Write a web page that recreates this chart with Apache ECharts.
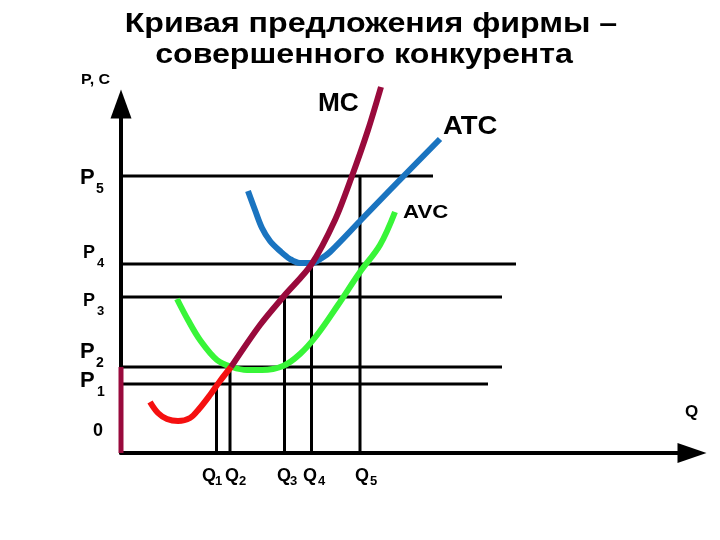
<!DOCTYPE html>
<html>
<head>
<meta charset="utf-8">
<script src="https://cdn.jsdelivr.net/npm/echarts@6/dist/echarts.min.js"></script>
<style>html,body{margin:0;padding:0;background:#fff}#c{width:720px;height:540px}</style>
</head>
<body>
<div id="c"></div>
<script>
// ---- data (Q units along x, P/C units along y) ----
const priceLevels = [13.8, 17.2, 31.2, 37.8, 55.4];      // P1..P5
const priceLineEnds = [73.4, 76.2, 76.2, 79.0, 62.4];    // extent of each price line along Q
const qtyLevels = [19.1, 21.8, 32.7, 38.1, 47.8];        // Q1..Q5 (each rises to matching P)
const mcLower = [[5.8,10.2],[7.4,8.0],[9.2,6.8],[11.4,6.4],[13.8,7.0],[15.6,8.8],[17.8,11.6],[19.8,14.4],[22.0,17.2]];
const mcUpper = [[22.0,17.2],[27.8,25.6],[32.6,31.4],[38.0,37.6],[42.8,46.6],[46.2,55.4],[49.4,64.6],[52.0,73.2]];
const atc = [[25.4,52.4],[26.8,48.6],[28.2,45.0],[29.8,42.4],[31.8,40.4],[33.8,38.8],[35.8,38.0],[38.2,38.0],[40.2,39.0],[41.8,40.2],[47.8,46.4],[53.8,52.6],[63.8,62.8]];
const avc = [[11.2,30.8],[13.4,26.6],[15.8,22.6],[19.2,18.6],[22.2,17.2],[25.2,16.6],[28.2,16.6],[32.4,17.4],[35.8,19.8],[39.2,23.6],[43.4,29.6],[47.8,36.2],[51.8,41.6],[54.8,48.2]];
const shutdownSegment = [[0, 0], [0, 17.2]];
const titleLines = ['Кривая предложения фирмы –', 'совершенного конкурента'];
const priceNames = ['1', '2', '3', '4', '5'];
const qtyNames = ['1', '2', '3', '4', '5'];

const FONT = '"Liberation Sans", Arial, sans-serif';
const MAROON = '#990a3c', RED = '#f51010', BLUE = '#1a74c0', GREEN = '#38f538';

const series = [];
function seg(data, color, width, smooth, z) {
  series.push({ type: 'line', data, showSymbol: false, symbol: 'none', smooth: smooth || false,
    clip: false, silent: true, z: z || 2, lineStyle: { color, width } });
}
priceLevels.forEach((p, i) => seg([[0, p], [priceLineEnds[i], p]], '#000', 3, false, 1));
qtyLevels.forEach((q, i) => seg([[q, 0], [q, priceLevels[i]]], '#000', 3, false, 1));
seg(avc, GREEN, 6, 0.35, 3);
seg(atc, BLUE, 6, 0.35, 3);
seg(mcLower, RED, 6, 0.35, 4);
seg(mcUpper, MAROON, 6, 0.3, 4);
seg(shutdownSegment, MAROON, 5, false, 5);

function txt(text, x, y, size, align, sx) {
  return { type: 'text', x, y, z: 10, silent: true, scaleX: sx || 1, scaleY: 1, style: {
    text, font: 'bold ' + size + 'px ' + FONT, fill: '#000',
    align: align || 'left', textAlign: align || 'left',
    verticalAlign: 'middle', textVerticalAlign: 'middle' } };
}
const pLabelPos = [ // [Px, Py, size, subX, subY, subSize]
  [80, 380.5, 22, 97, 392, 14],
  [80, 352, 22, 96, 363, 14],
  [83, 301.5, 18, 97, 311, 13],
  [83, 253.5, 18, 97, 263, 13],
  [80, 178, 22, 96, 189.5, 14]
];
const qLabelPos = [[202, 215], [225, 239], [277, 290], [303, 318], [355, 370]];
const graphics = [
  txt(titleLines[0], 371, 24.5, 27, 'center', 1.19),
  txt(titleLines[1], 364, 55.6, 27, 'center', 1.19),
  txt('P, C', 81, 80, 15, 'left', 1.07),
  txt('Q', 685, 412.5, 17),
  txt('0', 93, 431.5, 18),
  txt('MC', 318, 104, 25, 'left', 1.05),
  txt('ATC', 443, 127, 25, 'left', 1.1),
  txt('AVC', 403, 212.5, 19, 'left', 1.17)
];
pLabelPos.forEach((p, i) => {
  graphics.push(txt('P', p[0], p[1], p[2]));
  graphics.push(txt(priceNames[i], p[3], p[4], p[5]));
});
qLabelPos.forEach((q, i) => {
  graphics.push(txt('Q', q[0], 476, 18));
  graphics.push(txt(qtyNames[i], q[1], 481, 13));
});

const chart = echarts.init(document.getElementById('c'), null, { renderer: 'canvas' });
chart.setOption({
  animation: false,
  backgroundColor: '#fff',
  grid: { left: 121, top: 104, right: 28, bottom: 87, containLabel: false },
  xAxis: { type: 'value', min: 0, max: 114.2,
    axisLine: { show: true, onZero: false, symbol: ['none', 'triangle'], symbolSize: [20, 29],
      lineStyle: { color: '#000', width: 4 } },
    axisTick: { show: false }, axisLabel: { show: false }, splitLine: { show: false } },
  yAxis: { type: 'value', min: 0, max: 69.8,
    axisLine: { show: true, onZero: false, symbol: ['none', 'triangle'], symbolSize: [21, 29],
      lineStyle: { color: '#000', width: 4 } },
    axisTick: { show: false }, axisLabel: { show: false }, splitLine: { show: false } },
  series,
  graphic: graphics
});
</script>
</body>
</html>
